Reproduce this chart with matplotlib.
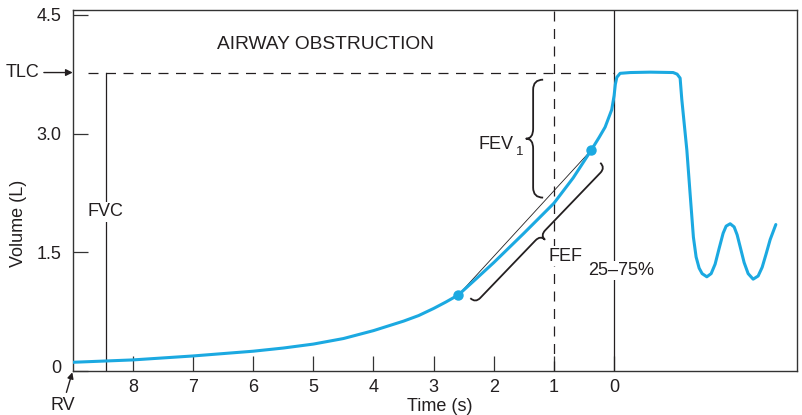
import numpy as np
import matplotlib
matplotlib.use('Agg')
import matplotlib.pyplot as plt
import matplotlib.transforms as mtrans
from matplotlib.path import Path
from matplotlib.patches import PathPatch

plt.rcParams['font.family'] = ['Liberation Sans', 'DejaVu Sans']

# spirogram (time runs right to left, seconds before end)
time_s = [9.0, 8.5, 8.0, 7.5, 7.0, 6.5, 6.0, 5.5, 5.0, 4.5, 4.0, 3.5, 3.25, 3.0,
          2.8, 2.59, 2.3, 2.0, 1.5, 1.0, 0.68, 0.38, 0.25, 0.15, 0.04, 0.0,
          -0.02, -0.045, -0.10, -0.27, -0.6, -0.981, -1.047, -1.097, -1.125,
          -1.209, -1.264, -1.318, -1.363, -1.413, -1.463, -1.541, -1.613, -1.679,
          -1.746, -1.812, -1.862, -1.929, -1.995, -2.045, -2.095, -2.161, -2.228,
          -2.311, -2.394, -2.461, -2.527, -2.594, -2.688]
volume_l = [0.11, 0.125, 0.14, 0.165, 0.19, 0.22, 0.25, 0.29, 0.34, 0.41, 0.51, 0.63, 0.70, 0.79,
            0.87, 0.96, 1.16, 1.37, 1.74, 2.12, 2.44, 2.79, 2.95, 3.08, 3.30, 3.48,
            3.62, 3.71, 3.76, 3.77, 3.775, 3.77, 3.75, 3.70, 3.43,
            2.79, 2.23, 1.69, 1.44, 1.30, 1.23, 1.19, 1.23, 1.35,
            1.55, 1.74, 1.83, 1.86, 1.82, 1.72, 1.57, 1.37, 1.23,
            1.16, 1.20, 1.31, 1.48, 1.66, 1.85]

# 25% and 75% points of the FVC
fef_time = [2.59, 0.38]
fef_vol = [0.96, 2.79]

tlc = 3.77
fvc_time = 8.45
fev1_time = 1.0
end_time = 0.0

x_ticks = [8, 7, 6, 5, 4, 3, 2, 1, 0]
y_ticks = [0, 1.5, 3.0, 4.5]
y_labels = ['0', '1.5', '3.0', '4.5']

blue = '#1BA9E1'
ink = '#231F20'
dash = (0, (8, 6))

fig = plt.figure(figsize=(8.02, 4.15), dpi=100)
ax = fig.add_axes([72.7/802, 44/415, (797-72.7)/802, 361/415])
ax.set_xlim(9.0, -3.04)
ax.set_ylim(0, 4.56)

for s in ax.spines.values():
    s.set_color('#333333')
    s.set_linewidth(1.0)

ax.set_xticks(x_ticks)
ax.set_xticklabels([str(x) for x in x_ticks])
ax.set_yticks(y_ticks)
ax.set_yticklabels(y_labels)
ax.tick_params(axis='both', direction='in', length=11, width=0.9, colors='#333333',
               labelsize=13, labelcolor=ink)
ax.tick_params(axis='x', pad=6)
ax.tick_params(axis='y', pad=8)

# the "0" sits a little above the corner in the original
lab0 = ax.get_yticklabels()[0]
lab0.set_transform(lab0.get_transform() + mtrans.ScaledTranslation(0, 5/100, fig.dpi_scale_trans))

# reference lines
ax.plot([8.74, end_time], [tlc, tlc], color=ink, lw=0.9, ls=dash)
ax.axvline(fev1_time, color=ink, lw=0.9, ls=dash)
ax.axvline(end_time, color=ink, lw=0.9)
ax.plot([fvc_time, fvc_time], [0, tlc], color=ink, lw=0.9)

# chord between 25% and 75% points
ax.plot(fef_time, fef_vol, color=ink, lw=0.6)

ax.plot(time_s, volume_l, color=blue, lw=2.2, solid_capstyle='round',
        solid_joinstyle='round', zorder=3)
ax.plot(fef_time, fef_vol, 'o', color=blue, ms=6.5, zorder=4)


def brace(ax, p1, p2, body, tip, side=1):
    # curly brace between two data points, sizes in pixels
    fig.canvas.draw()
    tr = ax.transData
    a = np.array(tr.transform(p1))
    b = np.array(tr.transform(p2))
    d = b - a
    L = np.hypot(*d)
    t = d / L
    n = np.array([-t[1], t[0]]) * side
    m = (a + b) / 2
    r = min(body, L / 4)
    verts = [a, a + n*body, a + n*body + t*r,
             m - t*r + n*body,
             m + n*body, m + n*tip,
             m + n*body, m + t*r + n*body,
             b - t*r + n*body,
             b + n*body, b]
    codes = [Path.MOVETO, Path.CURVE3, Path.CURVE3, Path.LINETO,
             Path.CURVE3, Path.CURVE3, Path.CURVE3, Path.CURVE3,
             Path.LINETO, Path.CURVE3, Path.CURVE3]
    verts = tr.inverted().transform(np.array(verts))
    ax.add_patch(PathPatch(Path(verts, codes), fill=False, ec=ink, lw=1.3,
                           joinstyle='round', zorder=2))


brace(ax, (1.18, 3.68), (1.18, 2.19), 10, 17, side=-1)
brace(ax, (2.39, 0.92), (0.23, 2.63), 7, 13, side=-1)

# texts
ax.text(4.80, 4.13, 'AIRWAY OBSTRUCTION', ha='center', va='center', fontsize=13.8, color=ink)
ax.text(fvc_time, 2.01, 'FVC', ha='center', va='center', fontsize=13, color=ink,
        bbox=dict(fc='white', ec='none', pad=1))
ax.text(1.67, 2.86, 'FEV', ha='right', va='center', fontsize=13, color=ink)
ax.text(1.64, 2.77, '1', ha='left', va='center', fontsize=9.5, color=ink)
ax.text(0.806, 1.45, 'FEF', ha='center', va='center', fontsize=13, color=ink,
        bbox=dict(fc='white', ec='none', pad=1), zorder=5)
ax.text(-0.116, 1.27, '25–75%', ha='center', va='center', fontsize=13, color=ink,
        bbox=dict(fc='white', ec='none', pad=1), zorder=5)

ax.annotate('TLC', xy=(9.0, tlc), xycoords='data', xytext=(-33, 0),
            textcoords='offset pixels', ha='right', va='center', fontsize=13,
            color=ink, annotation_clip=False,
            arrowprops=dict(arrowstyle='-|>', color=ink, lw=1, shrinkA=1, shrinkB=0,
                            mutation_scale=10))
ax.annotate('RV', xy=(9.0, 0), xycoords='data', xytext=(-10, -34),
            textcoords='offset pixels', ha='center', va='center', fontsize=13,
            color=ink, annotation_clip=False,
            arrowprops=dict(arrowstyle='-|>', color=ink, lw=1, shrinkA=1, shrinkB=1,
                            mutation_scale=9))

ax.text(-0.0755, 0.41, 'Volume (L)', transform=ax.transAxes, rotation=90,
        ha='center', va='center', fontsize=13, color=ink)
ax.text(0.507, -0.097, 'Time (s)', transform=ax.transAxes,
        ha='center', va='center', fontsize=13, color=ink)

fig.savefig('out.png', dpi=100)
